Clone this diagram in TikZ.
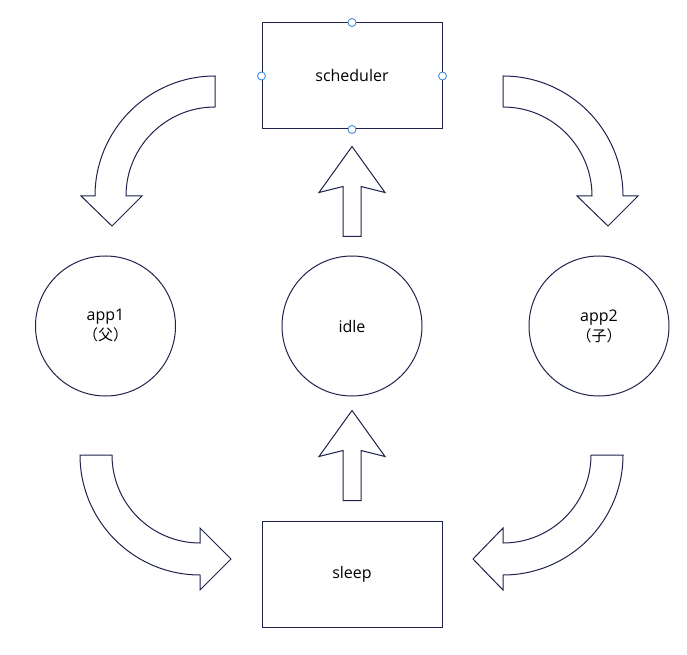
\documentclass[tikz,border=0pt]{standalone}
\usepackage{fontspec}
\setmainfont{Open Sans}
\newfontfamily\cjk{Noto Sans CJK SC}
\usetikzlibrary{calc}
\definecolor{lineNavy}{RGB}{30,35,75}
\definecolor{handleBlue}{RGB}{70,140,220}
\tikzstyle{stateBox}=[shape = rectangle, minimum width = 180pt, minimum height = 106pt, inner sep = 0pt, draw = lineNavy, line width = 1pt]
\tikzstyle{stateCircle}=[shape = circle, minimum size = 140pt, inner sep = 0pt, draw = lineNavy, line width = 1pt, align = center]
\tikzstyle{blockArrow}=[draw = lineNavy, line width = 1pt, fill = white]
\tikzstyle{handleDot}=[shape = circle, minimum size = 8pt, inner sep = 0pt, draw = handleBlue, fill = white, line width = 0.9pt]
% straight block arrow, #1 = middle of its tail
\newcommand{\UpArrow}[1]{\draw[blockArrow] #1 ++(-9,0) -- ++(0,50) -- ++(-24,-6) -- ++(33,46) -- ++(33,-46) -- ++(-24,6) -- ++(0,-50) -- cycle;}
\newcommand{\cjkline}[1]{{\cjk\fontsize{15}{20}\selectfont #1}}

\begin{document}
\begin{tikzpicture}[x = 1pt, y = 1pt, font = \fontsize{16}{20}\selectfont]
\useasboundingbox (0,0) rectangle (687,654);
\node[stateBox] (sched) at (352,578) {scheduler};
\node[stateBox] (sleep) at (352,80) {sleep};
\node[stateCircle] (app1) at (105.5,328) {app1\\\cjkline{（父）}};
\node[stateCircle] (idle) at (352,328) {idle};
\node[stateCircle] (app2) at (599,328) {app2\\\cjkline{（子）}};
% selection handles on the scheduler box
\foreach \a in {north, south, east, west}
  \node[handleDot] (h-\a) at (sched.\a) {};
% up arrows
\UpArrow{($(idle.north)+(0,19)$)}
\UpArrow{($(sleep.north)+(0,20)$)}
% curved arrows
\draw[blockArrow] (215,578) arc[start angle = 90, end angle = 180, radius = 120] -- (81,458) -- (112,428) -- (142,458) -- (126,458) arc[start angle = 180, end angle = 90, radius = 89] -- cycle;
\draw[blockArrow] (503,578) arc[start angle = 90, end angle = 0, radius = 120] -- (638,458) -- (608,428) -- (577,458) -- (592,458) arc[start angle = 0, end angle = 90, radius = 89] -- cycle;
\draw[blockArrow] (80,199) arc[start angle = 180, end angle = 270, radius = 120] -- (200,64) -- (231,95) -- (200,126) -- (200,111) arc[start angle = 270, end angle = 180, radius = 88] -- cycle;
\draw[blockArrow] (623,199) arc[start angle = 0, end angle = -90, radius = 120] -- (503,64) -- (473,95) -- (503,126) -- (503,111) arc[start angle = -90, end angle = 0, radius = 88] -- cycle;
\end{tikzpicture}
\end{document}
